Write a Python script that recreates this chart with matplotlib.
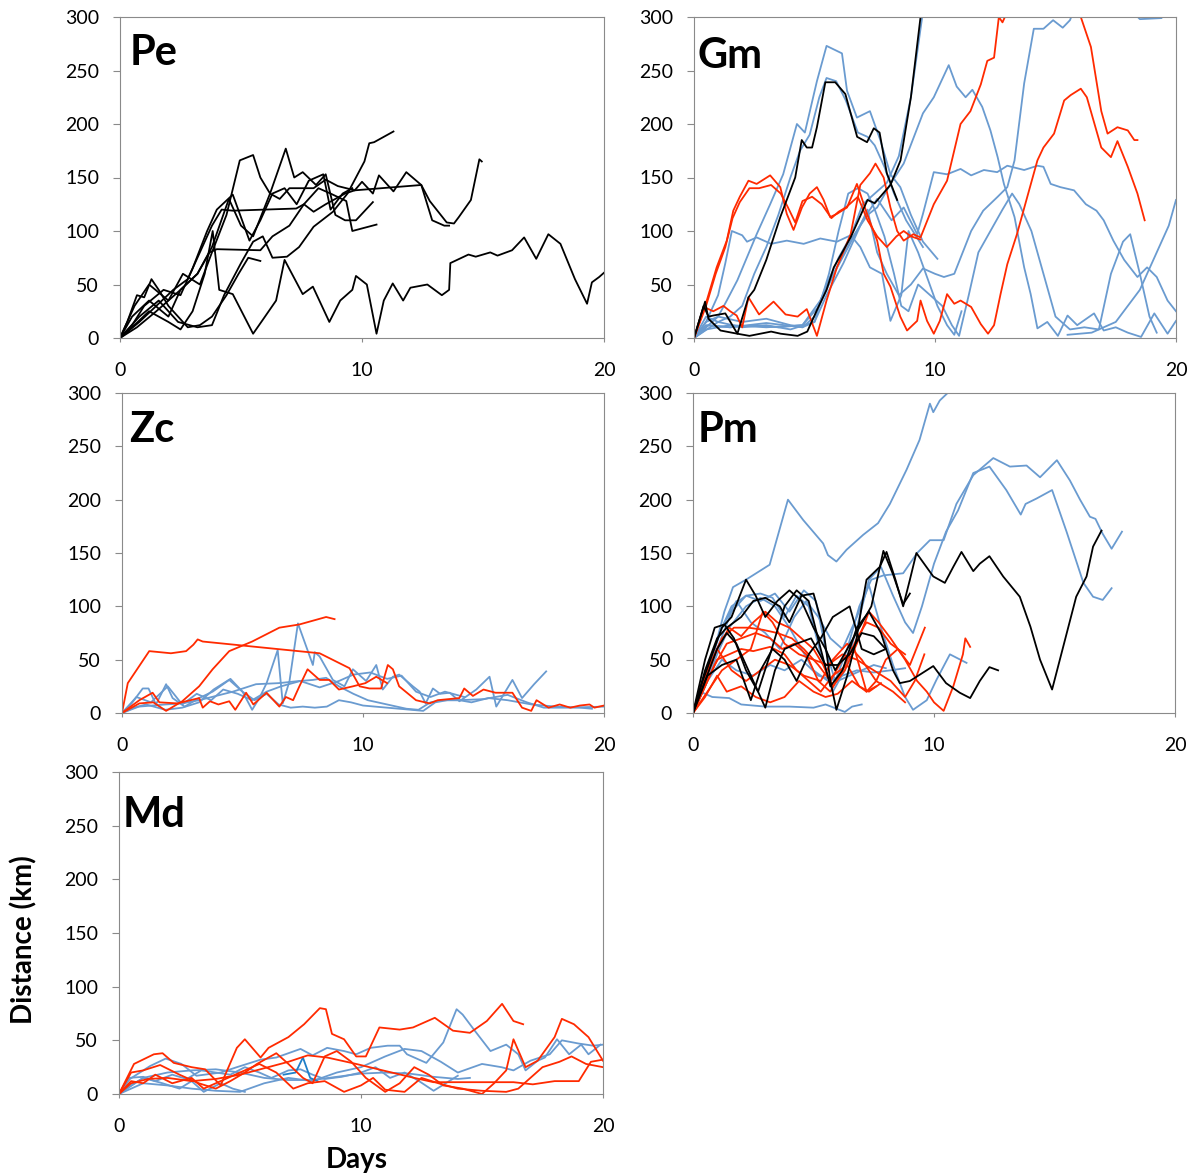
import matplotlib
matplotlib.use('Agg')
import matplotlib.pyplot as plt

plt.rcParams['font.family'] = ['Lato', 'DejaVu Sans']

RED = '#ff2a00'
BLUE = '#6a9bd0'
BLACK = '#000000'

# tracks are lists of (day, km) pairs
pe_black = [
    [(0,0),(0.5,10),(1.2,25),(2.0,15),(2.5,8),(3.0,25),(3.5,60),(3.83,100),(4.1,45),(4.66,41),(5.5,4),(5.9,17),(6.45,35),(6.8,73),(7.55,41),(7.97,48),(8.65,15),(9.1,35),(9.6,45),(9.75,58),(10.2,50),(10.6,4),(10.9,35),(11.27,51),(11.7,35),(12.0,47),(12.7,50),(13.3,40),(13.6,45),(13.65,70),(14.4,78),(14.7,76),(15.3,80),(15.6,77),(16.2,82),(16.7,94),(17.2,74),(17.7,97),(18.2,88),(18.8,55),(19.3,32),(19.5,52),(19.8,57),(20,61)],
    [(0,0),(0.8,20),(1.6,35),(2.4,15),(3.2,10),(3.8,12),(4.3,40),(5.0,70),(5.5,90),(5.9,95),(6.3,75),(6.9,76),(7.4,85),(8.0,104),(8.8,118),(9.4,135),(10.1,165),(10.3,182),(10.5,183),(11.3,193)],
    [(0,0),(0.5,20),(1.2,35),(2.0,20),(2.5,45),(3.2,60),(3.8,85),(4.5,130),(5.0,105),(5.5,95),(6.2,135),(6.6,130),(7.0,140),(7.5,140),(8.0,140),(8.5,148),(9.0,142),(9.7,138),(10.0,146),(10.45,135),(10.7,152),(11.3,137),(11.83,155),(12.45,143),(12.8,128),(13.5,108),(13.8,107),(14.0,113),(14.5,129),(14.85,167),(14.95,165)],
    [(0,0),(0.8,15),(1.5,30),(2.2,45),(2.8,55),(3.3,80),(3.8,105),(4.2,120),(4.66,119),(7.28,121),(7.6,125),(8.0,118),(8.5,125),(9.3,135),(9.7,138),(12.45,143),(12.9,110),(13.4,105),(13.6,105)],
    [(0,0),(0.7,10),(1.5,25),(2.5,45),(3.2,60),(3.7,80),(4.0,83),(5.8,82),(6.3,95),(7.0,105),(7.6,125),(8.2,140),(8.7,135),(9.35,128),(9.6,100),(10.6,106)],
    [(0,0),(0.6,30),(1.2,50),(2.0,35),(2.6,60),(3.3,50),(3.8,80),(4.4,115),(4.95,166),(5.5,171),(5.8,150),(6.2,135),(6.85,177),(7.2,150),(7.55,155),(8.1,143),(8.5,153),(8.9,115),(9.3,110),(9.75,110),(10.45,127)],
    [(0,0),(0.5,12),(1.0,30),(1.8,45),(2.5,40),(3.0,65),(3.6,100),(4.0,120),(4.66,134),(5.35,91),(5.8,110),(6.3,135),(6.8,140),(7.3,125),(7.8,147),(8.4,153),(8.7,120),(9.2,135),(9.6,140)],
    [(0,0),(0.3,15),(0.7,40),(1.0,38),(1.3,55),(1.6,45),(2.0,30),(2.4,20),(2.8,10),(3.3,12),(3.8,20),(4.4,40),(4.9,60),(5.3,75),(5.8,72)],
]

gm_blue = [
    [(0,0),(0.5,15),(1.0,20),(1.36,35),(1.8,54),(2.6,97),(3.16,125),(3.7,153),(4.27,200),(4.6,192),(5.1,240),(5.5,273),(6.14,266),(6.35,231),(6.76,206),(7.3,212),(7.73,185),(8.15,153),(8.56,141),(9.0,115),(9.5,90),(10.1,74)],
    [(0,0),(0.5,20),(1.0,15),(1.5,20),(2.0,30),(2.5,60),(3.0,85),(3.5,115),(4.0,150),(4.4,175),(4.8,190),(5.2,225),(5.5,243),(5.9,240),(6.3,222),(6.8,192),(7.2,188),(7.5,180),(7.9,160),(8.3,135),(8.8,110),(9.5,85)],
    [(0,0),(0.5,15),(1.0,40),(1.3,70),(1.57,100),(2.0,96),(2.2,90),(2.6,94),(3.2,88),(3.85,91),(4.55,88),(5.24,93),(5.93,90),(6.5,96),(6.9,85),(7.3,66),(7.8,60),(8.15,16),(8.6,40),(8.9,100),(9.3,80),(9.7,55),(10.1,30),(10.5,12),(10.8,3),(11.1,25)],
    [(0,0),(0.5,10),(1.0,20),(2.0,15),(3.0,18),(4.0,12),(4.5,10),(5.0,20),(5.5,50),(6.0,75),(6.5,95),(7.0,125),(7.5,135),(8.0,145),(8.5,170),(9.0,225),(9.5,305)],
    [(0,0),(0.6,12),(1.5,10),(2.5,12),(3.5,10),(4.5,12),(5.24,35),(5.9,65),(6.6,95),(7.2,115),(7.6,122),(8.15,144),(8.7,163),(9.5,210),(9.95,225),(10.57,255),(10.9,235),(11.27,225),(11.55,232),(11.96,216),(12.3,194),(12.6,169),(12.86,144),(13.3,113),(13.7,66),(13.97,41),(14.25,9),(14.66,15),(15.1,2),(15.5,21),(15.9,12),(16.6,23),(17.0,7),(17.5,10),(18.0,5),(18.55,1),(19.1,23),(19.65,4),(20,16)],
    [(0,0),(0.5,8),(1.5,12),(3.0,10),(4.5,12),(5.2,30),(5.8,60),(6.4,85),(7.0,110),(7.6,130),(8.2,110),(8.7,122),(9.26,97),(9.5,116),(9.95,155),(10.5,153),(11.06,158),(11.5,152),(12.03,157),(12.58,155),(13.0,161),(13.7,157),(14.25,161),(14.5,160),(14.8,144),(15.2,141),(15.77,138),(16.26,125),(16.7,119),(17.0,110),(17.4,91),(17.85,73),(18.4,57),(18.8,66),(19.2,57),(19.65,35),(20,25)],
    [(0,0),(0.5,12),(1.5,10),(3.0,14),(4.5,10),(5.0,15),(5.5,40),(6.2,70),(6.8,100),(7.2,120),(7.6,80),(8.0,60),(8.5,40),(9.0,50),(9.5,65),(10.0,60),(10.37,57),(10.8,60),(11.5,100),(12.0,119),(12.6,132),(13.0,141),(13.3,166),(13.7,238),(14.1,289),(14.5,289),(14.9,297),(15.3,290),(15.6,297),(16.0,320),(17.5,330),(18.2,305),(18.5,298),(19.4,299),(19.6,310)],
    [(0,0),(1.0,15),(2.0,10),(3.0,12),(4.0,8),(5.0,15),(5.6,60),(6.0,100),(6.4,135),(6.8,140),(7.2,135),(7.5,120),(7.9,95),(8.3,60),(8.6,30),(8.9,25),(9.3,50),(9.8,40),(10.3,30),(10.7,12),(11.0,2),(11.4,40),(11.8,80),(12.3,100),(12.8,120),(13.2,135),(13.5,125),(14.0,100),(14.5,60),(15.0,20),(15.6,8),(16.2,10),(16.8,8),(17.3,60),(17.8,90),(18.1,97),(18.5,60),(18.9,20),(19.2,5)],
    [(15.5,3),(16.5,5),(17.5,15),(18.5,45),(19.2,80),(19.7,105),(20,129)],
]
gm_red = [
    [(0,0),(0.53,35),(0.94,66),(1.36,91),(1.63,119),(1.9,132),(2.26,147),(2.6,144),(3.16,152),(3.58,141),(3.85,116),(4.13,101),(4.48,122),(4.8,135),(5.1,141),(5.38,129),(5.65,113),(5.93,116),(6.35,122),(6.76,144),(7.18,116),(7.6,91),(7.87,60),(8.15,48),(8.56,20),(8.84,7),(9.26,16),(9.4,35),(9.67,16),(9.95,4),(10.2,16),(10.5,41),(10.8,32),(11.06,35),(11.5,29),(11.9,13),(12.2,4),(12.45,12),(12.72,41),(13.0,69),(13.4,97),(13.83,132),(14.25,166),(14.5,178),(14.94,191),(15.36,222),(15.63,227),(16.05,233),(16.3,225),(16.9,178),(17.3,169),(17.57,184),(18.0,160),(18.4,135),(18.7,110)],
    [(0,0),(0.5,30),(0.9,60),(1.3,85),(1.6,112),(1.9,127),(2.3,140),(2.7,140),(3.2,143),(3.6,135),(3.9,122),(4.2,108),(4.5,128),(4.9,132),(5.3,125),(5.7,112),(6.0,118),(6.3,122),(6.8,132),(7.2,110),(7.6,95),(8.0,85),(8.4,95),(8.7,100),(9.0,95),(9.4,92)],
    [(0,0),(0.4,29),(0.8,25),(1.22,30),(1.5,25),(1.77,21),(2.0,10),(2.26,38),(2.7,22),(3.3,34),(3.8,22),(4.3,20),(4.68,27),(5.1,2),(5.5,35),(5.93,66),(6.5,97),(6.9,143),(7.3,154),(7.53,163),(7.87,150),(8.15,122),(8.43,100),(8.7,91),(9.1,97),(9.4,94),(9.95,125),(10.5,147),(11.06,200),(11.47,212),(11.9,237),(12.17,259),(12.45,262),(12.65,300),(12.8,295),(13.0,305),(14.0,330),(15.0,330),(15.8,310),(16.05,300),(16.47,272),(16.9,212),(17.16,191),(17.57,197),(18.0,194),(18.27,185),(18.4,185)],
]
gm_black = [
    [(0,0),(0.4,30),(0.6,20),(0.8,21),(1.3,23),(1.8,4),(2.26,38),(2.5,45),(3.0,73),(3.58,113),(4.2,150),(4.47,185),(4.68,178),(4.9,178),(5.1,197),(5.45,239),(5.86,239),(6.28,228),(6.77,188),(7.18,183),(7.46,196),(7.7,192),(8.0,154),(8.43,129)],
    [(0,0),(0.46,34),(0.6,18),(1.1,7),(1.8,4),(2.3,2),(3.2,6),(3.6,4),(4.3,2),(4.7,6),(5.1,26),(5.5,45),(5.8,66),(6.5,94),(7.2,129),(7.5,126),(8.15,143),(8.57,166),(9.0,225),(9.4,300),(9.6,330)],
]

zc_red = [
    [(0,0),(0.24,28),(1.13,58),(2.03,56),(2.66,58),(2.96,64),(3.14,69),(3.35,67),(8.2,56),(9.44,42),(9.86,25),(10.27,23),(10.75,23),(11.03,45),(11.24,41),(11.5,25),(12.2,12),(12.76,9),(13.1,12),(14.0,14),(14.2,23),(14.56,16),(15.0,22),(15.5,19),(16.2,19),(16.6,5),(16.98,2),(17.2,12),(17.7,5),(18.16,8),(18.6,5),(19.0,7),(19.4,8),(19.6,5),(20,7)],
    [(0,0),(0.72,9),(1.3,10),(1.83,2),(2.5,11),(3.2,25),(3.76,41),(4.45,58),(5.4,67),(6.53,80),(7.36,83),(8.47,90),(8.82,88)],
    [(0,0),(0.72,12),(1.27,19),(1.55,10),(2.3,9),(3.2,14),(3.35,5),(3.65,11),(4.0,8),(4.45,11),(4.7,3),(5.15,19),(5.45,8),(6.0,19),(6.53,6),(6.8,15),(7.1,12),(7.36,25),(7.7,41),(8.2,31),(8.6,31),(9.0,22),(9.58,25),(10.1,28),(10.55,34),(11.0,28)],
]
zc_blue = [
    [(0,0),(0.4,9),(0.86,23),(1.1,23),(1.41,8),(1.83,27),(2.1,14),(2.6,6),(3.2,14),(3.76,20),(4.45,31),(5.0,20),(5.4,3),(5.7,14),(6.0,28),(6.46,59),(6.67,9),(6.95,30),(7.3,84),(7.92,45),(8.0,57),(8.2,53),(8.75,31),(9.23,25),(9.58,41),(10.13,30),(10.55,45),(10.82,22),(11.24,34),(11.5,36),(12.07,25),(12.35,20),(12.6,9),(12.9,23),(13.2,18),(13.6,19),(14.0,11),(14.7,22),(15.25,34),(15.53,6),(16.2,31),(16.6,14),(17.1,27),(17.6,39)],
    [(0,0),(0.7,6),(1.8,8),(2.5,9),(3.2,12),(3.9,16),(4.6,20),(5.56,27),(6.5,28),(7.36,30),(7.92,31),(8.47,33),(9.0,25),(9.6,18),(10.2,12),(11.0,8),(11.8,4),(12.3,3),(12.8,10),(13.3,12),(14.0,12),(15.0,13),(16.0,17),(16.8,10),(17.5,5),(18.5,5),(20,6)],
    [(0,0),(0.5,5),(1.0,8),(1.8,3),(2.5,5),(3.2,10),(3.8,22),(4.5,32),(5.0,20),(5.5,12),(6.0,18),(6.5,8),(7.0,5),(7.5,6),(8.0,5),(8.5,6),(9.0,12),(9.5,10),(10.0,7),(10.5,6),(11.0,5),(12.0,3),(12.5,2),(13.0,10),(13.5,12),(14.0,12),(14.5,10),(15.2,14),(16.0,12),(17.0,8),(18.0,6),(19.0,5),(19.5,4)],
    [(0,0),(0.6,15),(1.2,10),(1.9,25),(2.5,8),(3.1,18),(3.7,12),(4.2,22),(4.8,18),(5.4,12),(6.0,20),(6.6,25),(7.4,30),(8.2,24),(9.0,30),(9.6,36),(10.3,38),(11.0,32),(11.6,35),(12.2,20),(12.8,15),(13.4,20),(14.2,15)],
]

pm_blue = [
    [(0,0),(0.42,25),(0.9,60),(1.3,95),(1.66,118),(2.2,125),(3.18,139),(3.94,200),(4.57,181),(5.4,159),(5.6,148),(5.95,142),(6.37,153),(7.06,167),(7.68,178),(8.17,196),(8.86,228),(9.4,256),(9.83,290),(9.97,282),(10.24,293),(10.66,302),(11.2,312)],
    [(0,0),(0.5,35),(1.1,75),(1.6,100),(2.2,110),(2.8,105),(3.4,112),(4.0,95),(4.6,115),(5.1,105),(5.5,60),(5.9,30),(6.4,60),(6.9,100),(7.4,125),(7.9,129),(8.72,131),(9.3,150),(9.83,162),(10.4,162),(10.93,196),(11.63,223),(12.46,239),(13.15,231),(13.84,232),(14.4,221),(15.1,237),(15.64,218),(16.06,200),(16.47,184),(16.7,182),(17.0,168),(17.37,154),(17.8,170)],
    [(0,0),(0.5,30),(1.0,60),(1.6,95),(2.2,110),(2.8,112),(3.3,108),(3.8,90),(4.3,110),(4.8,100),(5.3,55),(5.8,20),(6.3,40),(6.8,80),(7.3,125),(7.8,137),(8.3,110),(8.8,85),(9.13,75),(9.5,100),(10.0,140),(10.5,170),(11.0,190),(11.63,225),(12.3,231),(13.0,209),(13.6,186),(13.8,196),(14.25,201),(14.9,209),(15.5,170),(16.2,122),(16.6,109),(17.0,106),(17.37,117)],
    [(0,0),(0.6,40),(1.2,80),(1.8,105),(2.4,85),(3.0,75),(3.6,60),(4.2,90),(4.7,105),(5.2,90),(5.7,70),(6.2,60),(6.8,90),(7.3,120),(7.8,80),(8.3,45),(8.8,15),(9.13,3),(9.7,12),(10.1,31),(10.66,55),(11.35,47)],
    [(0,0),(0.3,20),(0.8,15),(1.5,14),(2.0,8),(3.0,6),(4.0,6),(5.0,5),(5.5,8),(6.3,1),(6.6,6),(7.0,8)],
    [(0,0),(0.5,25),(1.0,55),(1.5,80),(2.2,100),(2.8,108),(3.4,100),(4.0,80),(4.5,60),(5.0,40),(5.6,30),(6.2,35),(6.8,40),(7.5,38),(8.2,40),(8.8,42)],
    [(0,0),(0.6,30),(1.2,50),(1.8,40),(2.5,35),(3.2,45),(3.8,40),(4.5,50),(5.2,35),(6.0,30),(6.8,38),(7.5,45),(8.0,42)],
]
pm_red = [
    [(0,0),(0.5,30),(1.0,60),(1.5,80),(2.0,72),(2.5,85),(3.0,95),(3.5,85),(4.0,80),(4.5,70),(5.0,60),(5.4,45),(5.8,25),(6.3,40),(6.8,65),(7.3,95),(7.7,85),(8.2,70),(8.8,50),(9.3,30),(9.7,20),(10.0,10),(10.4,2),(10.8,25),(11.2,55),(11.3,70),(11.5,62)],
    [(0,0),(0.6,40),(1.2,70),(1.7,80),(2.3,80),(2.9,78),(3.5,75),(4.1,70),(4.6,60),(5.2,45),(5.7,30),(6.2,50),(6.7,60),(7.2,20),(7.6,30),(8.0,50),(8.5,60),(9.0,45),(9.62,80)],
    [(0,0),(0.4,20),(0.9,45),(1.4,65),(2.0,70),(2.6,75),(3.2,70),(3.7,60),(4.2,65),(4.7,55),(5.2,30),(5.7,20),(6.2,40),(6.8,70),(7.2,85),(7.7,80),(8.2,65),(8.8,55)],
    [(0,0),(0.5,25),(1.0,50),(1.5,55),(2.0,60),(2.5,58),(3.2,62),(3.8,55),(4.3,40),(4.8,30),(5.3,20),(5.8,35),(6.4,45),(6.9,25),(7.3,20),(7.8,28)],
    [(0,0),(0.5,15),(1.0,35),(1.4,20),(2.0,25),(2.6,15),(3.2,10),(3.8,15),(4.4,30),(5.0,20),(5.5,15),(6.0,18),(6.6,30),(7.2,20),(7.6,25)],
    [(0,0),(0.6,20),(1.2,40),(1.8,50),(2.4,60),(2.9,95),(3.3,85),(3.8,65),(4.4,55),(5.0,50),(5.6,45),(6.2,55),(6.8,50),(7.5,40),(8.2,30),(8.8,15),(9.2,30),(9.6,55)],
    [(0,0),(0.5,35),(1.0,60),(1.6,40),(2.2,30),(2.8,40),(3.4,50),(4.0,45),(4.6,35),(5.3,30),(5.8,50),(6.4,65),(7.0,50),(7.6,30),(8.3,20),(8.8,10)],
]
pm_black = [
    [(0,0),(0.5,40),(1.0,70),(1.4,80),(2.0,90),(2.5,105),(3.0,108),(3.6,100),(4.0,85),(4.5,110),(5.0,112),(5.4,80),(5.7,30),(5.95,3),(6.4,35),(6.78,69),(7.0,100),(7.2,125),(7.75,137),(8.03,151),(8.4,125),(8.72,100),(9.0,125),(9.27,150),(9.97,128),(10.45,122),(10.8,137),(11.14,151),(11.63,133),(11.9,140),(12.3,147),(12.87,128),(13.56,109),(14.0,81),(14.4,50),(14.9,22),(15.36,62),(15.9,109),(16.33,128),(16.6,156),(16.95,171)],
    [(0,0),(0.5,30),(1.0,60),(1.4,75),(1.8,65),(2.3,40),(2.7,20),(3.2,55),(3.8,100),(4.3,115),(4.8,105),(5.3,60),(5.7,25),(6.2,40),(6.8,80),(7.3,95),(7.8,75),(8.3,40),(8.58,28),(9.0,30),(9.97,44),(10.5,28),(11.07,19),(11.5,14),(11.9,30),(12.3,43),(12.66,40)],
    [(0,0),(0.4,30),(0.8,55),(1.2,80),(1.6,90),(2.2,125),(2.6,110),(3.0,90),(3.5,105),(4.0,115),(4.5,105),(5.0,80),(5.5,60),(5.9,40),(6.4,60),(6.9,80),(7.4,100),(7.9,152),(8.3,130),(8.72,102),(9.0,112)],
    [(0,0),(0.5,50),(0.9,80),(1.3,83),(1.7,70),(2.2,40),(2.7,20),(3.0,5),(3.4,40),(3.8,60),(4.3,65),(4.9,70),(5.5,45),(6.0,45),(6.5,55),(7.0,75),(7.5,72),(8.0,60)],
    [(0,0),(0.6,35),(1.2,45),(1.8,50),(2.4,12),(2.8,40),(3.3,60),(3.8,50),(4.3,30),(4.8,55),(5.3,70),(5.8,90),(6.5,100),(7.0,60),(7.5,55),(8.0,60)],
]

md_red = [
    [(0,0),(0.62,28),(1.44,37),(1.8,38),(2.26,29),(3.0,25),(3.56,23),(4.2,8),(4.87,43),(5.2,51),(5.85,34),(6.18,43),(7.0,53),(7.65,65),(8.3,80),(8.55,79),(8.8,56),(9.3,51),(9.8,35),(10.2,35),(10.76,62),(11.6,60),(12.15,62),(13.05,71),(13.8,59),(14.5,57),(15.2,68),(15.83,84),(16.3,68),(16.7,65)],
    [(0,0),(0.5,10),(1.2,14),(2.0,15),(3.0,12),(4.0,14),(5.0,18),(6.0,24),(7.0,30),(7.8,36),(8.6,34),(9.8,28),(10.9,22),(12.2,15),(13.0,11),(14.7,11),(16.3,11),(17.1,9),(18.0,12),(19.0,12),(19.5,30),(20,32)],
    [(0,0),(0.5,20),(1.0,22),(1.7,27),(2.5,18),(3.3,10),(4.0,5),(4.6,12),(5.2,20),(5.7,28),(6.5,38),(7.0,28),(7.6,15),(8.0,10),(8.5,35),(9.0,40),(9.6,30),(10.2,15),(11.0,2),(11.6,10),(12.2,25),(12.8,18),(13.4,8),(14.2,5),(15.0,0),(15.5,10),(16.0,22),(16.3,51),(16.8,25),(17.3,31),(18.0,53),(18.3,70),(18.8,65),(19.4,53),(20,31)],
    [(0,0),(0.5,12),(1.0,10),(1.5,18),(2.2,10),(3.0,15),(3.5,5),(4.5,15),(5.2,22),(5.8,28),(6.5,20),(7.2,5),(7.8,10),(8.5,12),(9.3,2),(10.0,8),(10.5,15),(11.0,4),(11.8,2),(12.5,15),(13.2,10),(14.0,5),(15.0,3),(16.0,2),(16.5,5),(17.0,15),(17.5,25),(18.2,30),(18.7,35),(19.3,28),(20,25)],
]
md_blue = [
    [(0,0),(0.45,14),(1.28,26),(1.93,33),(2.58,28),(3.2,17),(4.2,20),(4.87,25),(5.85,32),(6.5,34),(7.5,42),(8.0,36),(8.6,43),(9.3,40),(9.8,37),(10.4,43),(11.1,45),(11.6,45),(11.9,37),(12.4,32),(12.7,29),(13.4,48),(13.95,79),(14.2,74),(14.7,59),(15.35,40),(16.0,46),(16.5,37),(16.8,22),(17.3,31),(17.6,34),(18.1,51),(18.6,37),(19.1,46),(19.4,37),(19.9,46)],
    [(0,0),(0.4,15),(1.0,16),(1.5,12),(2.2,18),(2.8,14),(3.4,22),(4.0,20),(4.6,18),(5.2,25),(5.8,20),(6.3,15),(7.0,22),(7.5,23),(8.0,18),(8.5,14),(9.2,16),(10.0,20),(10.6,25),(11.2,15),(11.8,20),(12.4,12),(13.0,3),(13.5,10),(14.0,17)],
    [(0,0),(1.0,15),(2.0,20),(3.0,22),(4.0,23),(5.0,20),(6.0,15),(7.0,13),(8.0,13),(9.0,16),(10.0,19),(11.0,20),(12.0,19),(13.0,16),(14.0,14),(14.5,15)],
    [(0,0),(0.5,8),(1.0,15),(1.8,10),(2.5,5),(3.0,12),(3.5,2),(4.2,10),(4.7,5),(5.2,2)],
    [(0,0),(1.0,10),(2.0,8),(3.0,5),(4.0,3),(5.0,2),(6.0,10),(7.0,15),(8.0,12),(9.0,20),(10.0,25),(11.0,35),(11.8,42),(12.5,40),(13.3,30),(14.0,20),(15.0,28),(15.8,25),(16.3,22),(17.0,31),(17.8,37),(18.3,50),(19.0,47),(19.6,45),(20,46)],
]
md_blue_dark = [[(6.8,18),(7.3,20),(7.6,34),(7.9,15),(8.2,12)]]

panel_names = ['Pe', 'Gm', 'Zc', 'Pm', 'Md']
y_ticks = [0, 50, 100, 150, 200, 250, 300]
x_ticks = [0, 10, 20]

W, H = 1197, 1175
fig = plt.figure(figsize=(W / 100, H / 100), dpi=100)

# axes boxes in pixels: left, top, right, bottom
boxes = {
    'Pe': (120, 17, 604, 338),
    'Gm': (694, 17, 1176, 338),
    'Zc': (122, 393, 604, 713),
    'Pm': (693, 393, 1175, 713),
    'Md': (119, 772, 603, 1094),
}
panel_data = {
    'Pe': [(pe_black, BLACK)],
    'Gm': [(gm_blue, BLUE), (gm_red, RED), (gm_black, BLACK)],
    'Zc': [(zc_blue, BLUE), (zc_red, RED)],
    'Pm': [(pm_blue, BLUE), (pm_red, RED), (pm_black, BLACK)],
    'Md': [(md_blue, BLUE), (md_blue_dark, '#1f7fc8'), (md_red, RED)],
}
label_pos = {'Pe': (0.02, 0.85), 'Gm': (0.008, 0.84), 'Zc': (0.015, 0.847),
             'Pm': (0.01, 0.847), 'Md': (0.008, 0.83)}

for name in panel_names:
    l, t, r, b = boxes[name]
    ax = fig.add_axes([l / W, 1 - b / H, (r - l) / W, (b - t) / H])
    for tracks, col in panel_data[name]:
        for tr in tracks:
            xs = [p[0] for p in tr]
            ys = [p[1] for p in tr]
            ax.plot(xs, ys, color=col, lw=1.3, solid_joinstyle='round')
    ax.set_xlim(0, 20)
    ax.set_ylim(0, 300)
    ax.set_xticks(x_ticks)
    ax.set_yticks(y_ticks)
    for s in ax.spines.values():
        s.set_color('#8a8a8a')
        s.set_linewidth(0.8)
    ax.tick_params(axis='y', length=5, width=0.8, color='#8a8a8a', pad=10, labelsize=14)
    ax.tick_params(axis='x', length=3, width=0.8, color='#8a8a8a', pad=14, labelsize=14)
    lx, ly = label_pos[name]
    ax.text(lx, ly, name, transform=ax.transAxes, fontsize=30, fontweight='bold',
            ha='left', va='baseline')

fig.text(24 / W, 1 - 940 / H, 'Distance (km)', rotation=90, fontsize=20,
         fontweight='bold', ha='center', va='center')
fig.text(357 / W, 1 - 1160 / H, 'Days', fontsize=20, fontweight='bold',
         ha='center', va='center')

fig.savefig('out.png', dpi=100)
